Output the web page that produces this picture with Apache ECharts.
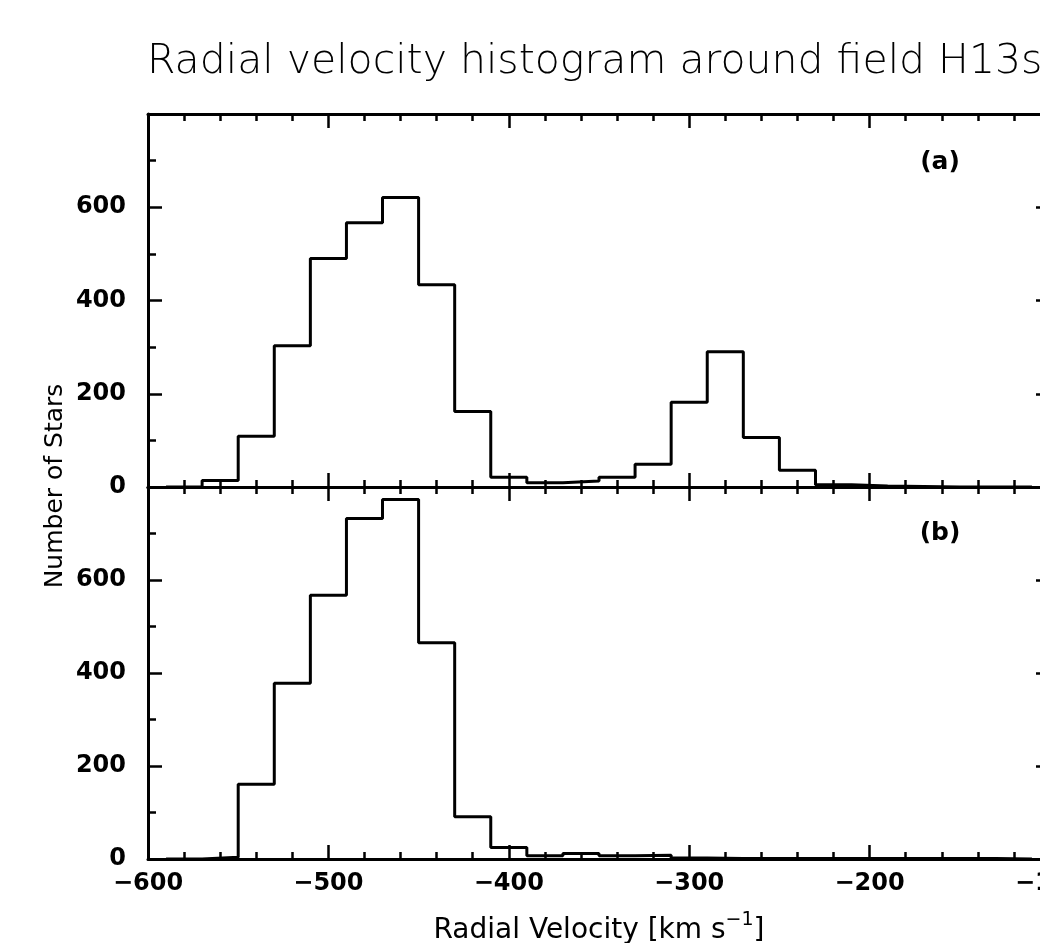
<!DOCTYPE html>
<html>
<head>
<meta charset="utf-8">
<script src="https://cdn.jsdelivr.net/npm/echarts@6/dist/echarts.min.js"></script>
<style>
  html, body { margin: 0; padding: 0; background: #fff; }
  #chart { width: 1040px; height: 943px; }
</style>
</head>
<body>
<div id="chart"></div>
<script>
// left edge of each 20 km/s bin
const binEdges = [-590, -570, -550, -530, -510, -490, -470, -450, -430, -410,
  -390, -370, -350, -330, -310, -290, -270, -250, -230, -210, -190, -170, -150, -130, -110];
// panel (a)
const countsA = [0, 14, 109, 303, 490, 567, 621, 434, 162, 21,
  9, 13, 21, 49, 182, 290, 106, 36, 5, 2, 1, 0, 0, 0];
// panel (b)
const countsB = [0, 4, 161, 378, 567, 732, 773, 465, 91, 25,
  7, 12, 7, 8, 2, 1, 1, 1, 1, 1, 1, 1, 1, 0];

const xTicks = [-600, -500, -400, -300, -200, -100];
const yTicks = [0, 200, 400, 600, 800];

const font = "DejaVu Sans";
const black = "#000";

// histogram outline: step from left edge, closing at last right edge
function toSteps(counts) {
  const pts = counts.map((c, i) => [binEdges[i], c]);
  pts.push([binEdges[counts.length], counts[counts.length - 1]]);
  return pts;
}

const minus = (v) => String(v).replace("-", "\u2212");

const chart = echarts.init(document.getElementById("chart"));

// the frame runs a bit past the right edge of the page, as in the original
const gridLeft = 148;
const gridWidth = 902;
const grids = [
  { left: gridLeft, width: gridWidth, top: 114, height: 373, outerBoundsMode: "none", containLabel: false },
  { left: gridLeft, width: gridWidth, top: 487, height: 372, outerBoundsMode: "none", containLabel: false },
];

function xAxisFor(gridIndex, position, withLabels) {
  return {
    type: "value",
    gridIndex: gridIndex,
    position: position,
    min: xTicks[0],
    max: xTicks[xTicks.length - 1],
    interval: 100,
    axisLine: { show: true, onZero: false, lineStyle: { color: black, width: 3 } },
    axisTick: { show: true, inside: true, length: 14, lineStyle: { color: black, width: 2.5 } },
    minorTick: { show: true, splitNumber: 5, length: 7, lineStyle: { color: black, width: 2.5 } },
    splitLine: { show: false },
    axisLabel: {
      show: withLabels,
      margin: 13,
      color: black,
      fontFamily: font,
      fontSize: 24,
      fontWeight: "bold",
      formatter: minus,
    },
  };
}

function yAxisFor(gridIndex, position, withLabels) {
  return {
    type: "value",
    gridIndex: gridIndex,
    position: position,
    min: yTicks[0],
    max: yTicks[yTicks.length - 1],
    interval: 200,
    axisLine: { show: true, onZero: false, lineStyle: { color: black, width: 3 } },
    axisTick: { show: true, inside: true, length: 14, lineStyle: { color: black, width: 2.5 } },
    minorTick: { show: true, splitNumber: 2, length: 8, lineStyle: { color: black, width: 2.5 } },
    splitLine: { show: false },
    axisLabel: {
      show: withLabels,
      showMaxLabel: false,
      margin: 22,
      color: black,
      fontFamily: font,
      fontSize: 24,
      fontWeight: "bold",
    },
  };
}

const option = {
  animation: false,
  backgroundColor: "#fff",
  title: {
    text: "Radial velocity histogram around field H13s",
    left: 147,
    top: 42,
    padding: 0,
    textStyle: { fontFamily: font, fontSize: 41, fontWeight: 300, color: black },
  },
  grid: grids,
  xAxis: [
    xAxisFor(0, "bottom", false),
    xAxisFor(0, "top", false),
    xAxisFor(1, "top", false),
    Object.assign(xAxisFor(1, "bottom", true), {
      name: "{t|Radial Velocity [km s}{s|\u22121}{t|]}",
      nameLocation: "middle",
      nameGap: 52,
      nameTextStyle: {
        rich: {
          t: { fontFamily: font, fontSize: 28, color: black, lineHeight: 34, verticalAlign: "bottom" },
          s: { fontFamily: font, fontSize: 19, color: black, lineHeight: 34, verticalAlign: "top" },
        },
      },
    }),
  ],
  yAxis: [
    yAxisFor(0, "left", true),
    yAxisFor(0, "right", false),
    yAxisFor(1, "left", true),
    yAxisFor(1, "right", false),
  ],
  graphic: [
    {
      type: "text",
      x: 55,
      y: 486,
      rotation: Math.PI / 2,
      style: {
        text: "Number of Stars",
        fontFamily: font,
        fontSize: 25,
        fill: black,
        align: "center",
        verticalAlign: "middle",
      },
    },
    {
      type: "text",
      x: 940,
      y: 162,
      style: { text: "(a)", fontFamily: font, fontSize: 25, fontWeight: "bold", fill: black, align: "center", verticalAlign: "middle" },
    },
    {
      type: "text",
      x: 940,
      y: 533,
      style: { text: "(b)", fontFamily: font, fontSize: 25, fontWeight: "bold", fill: black, align: "center", verticalAlign: "middle" },
    },
  ],
  series: [
    {
      type: "line",
      xAxisIndex: 0,
      yAxisIndex: 0,
      step: "end",
      showSymbol: false,
      lineStyle: { color: black, width: 3 },
      data: toSteps(countsA),
    },
    {
      type: "line",
      xAxisIndex: 2,
      yAxisIndex: 2,
      step: "end",
      showSymbol: false,
      lineStyle: { color: black, width: 3 },
      data: toSteps(countsB),
    },
  ],
};

chart.setOption(option);
</script>
</body>
</html>
